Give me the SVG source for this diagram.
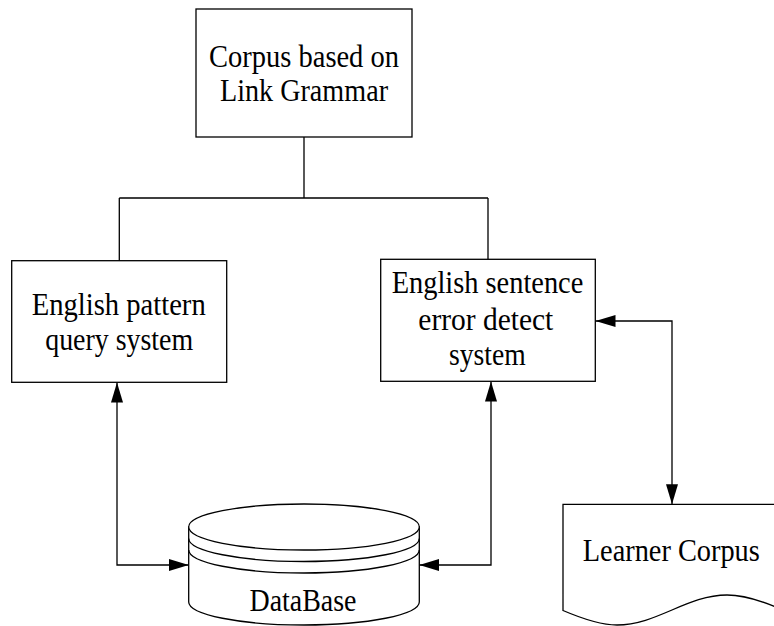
<svg xmlns="http://www.w3.org/2000/svg" width="774" height="626" viewBox="0 0 774 626">
<style>
.shape{fill:#fff;stroke:#000;stroke-width:1.3}
.line{fill:none;stroke:#000;stroke-width:1.3}
.lbl{font-family:"Liberation Serif","Times New Roman",serif;font-size:32px;fill:#000;text-anchor:middle}
</style>
<defs>
<marker id="ah" markerUnits="userSpaceOnUse" markerWidth="21" markerHeight="13" refX="20" refY="6" orient="auto-start-reverse">
<path d="M0,0 L20,6 L0,12 Z" fill="#000"/>
</marker>
</defs>
<rect width="774" height="626" fill="#fff"/>
<g id="connectors">
<path class="line" d="M304,137 V198 M119.3,198 H488 M119.3,198 V261 M488,198 V259.5"/>
<path class="line" d="M117,382.5 V565 H188.7" marker-start="url(#ah)" marker-end="url(#ah)"/>
<path class="line" d="M491,381.5 V565 H419.3" marker-start="url(#ah)" marker-end="url(#ah)"/>
<path class="line" d="M595.5,321 H672 V504.3" marker-start="url(#ah)" marker-end="url(#ah)"/>
</g>
<g id="corpus">
<rect class="shape" x="196" y="9" width="216" height="128"/>
<text class="lbl" x="304" y="66.5" textLength="190" lengthAdjust="spacingAndGlyphs">Corpus based on</text>
<text class="lbl" x="304" y="100.5" textLength="168" lengthAdjust="spacingAndGlyphs">Link Grammar</text>
</g>
<g id="pattern">
<rect class="shape" x="11.7" y="260.7" width="215" height="121.6"/>
<text class="lbl" x="118.7" y="315" textLength="174" lengthAdjust="spacingAndGlyphs">English pattern</text>
<text class="lbl" x="119.2" y="350" textLength="148" lengthAdjust="spacingAndGlyphs">query system</text>
</g>
<g id="detect">
<rect class="shape" x="380.7" y="259.3" width="214.6" height="122"/>
<text class="lbl" x="487.5" y="293.3" textLength="191.6" lengthAdjust="spacingAndGlyphs">English sentence</text>
<text class="lbl" x="485.8" y="330" textLength="135" lengthAdjust="spacingAndGlyphs">error detect</text>
<text class="lbl" x="487.3" y="365" textLength="76.7" lengthAdjust="spacingAndGlyphs">system</text>
</g>
<g id="database">
<path class="shape" d="M188.7,527 V602 A115.3,23 0 0 0 419.3,602 V527 Z"/>
<ellipse class="shape" cx="304" cy="527" rx="115.3" ry="23"/>
<path class="line" d="M188.7,538.5 A115.3,23 0 0 0 419.3,538.5 M188.7,550 A115.3,23 0 0 0 419.3,550"/>
<text class="lbl" x="303" y="611" textLength="107" lengthAdjust="spacingAndGlyphs">DataBase</text>
</g>
<g id="learner">
<path class="shape" d="M563,504.3 V610.5 C581,618.2 600,625 617,625 C657,625 687,595 727,595 C744,595 760,600.5 775,606.7 V504.3 Z"/>
<text class="lbl" x="671.3" y="560.7" textLength="177" lengthAdjust="spacingAndGlyphs">Learner Corpus</text>
</g>
</svg>
